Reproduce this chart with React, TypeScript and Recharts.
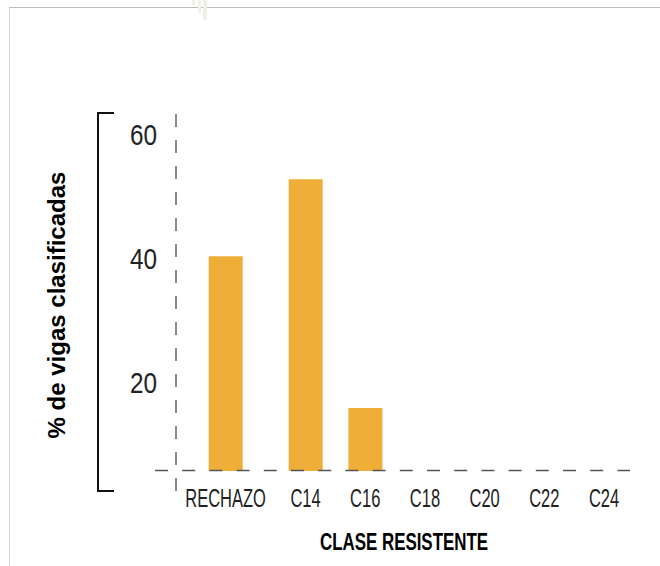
import React from 'react';
import { BarChart, Bar, XAxis, YAxis, Label } from 'recharts';

const categories = ['RECHAZO', 'C14', 'C16', 'C18', 'C20', 'C22', 'C24'];
const classPositions = [11.32, 14, 16, 18, 20, 22, 24];
const percentValues = [40.3, 52.7, 15.8, 0, 0, 0, 0];
const yTicks = [20, 40, 60];
const yTitle = '% de vigas clasificadas';
const xTitle = 'CLASE RESISTENTE';

const data = categories.map((name, i) => ({ name, pos: classPositions[i], value: percentValues[i] }));

const FONT = "'Liberation Sans', Arial, sans-serif";
const BAR_COLOR = '#EFAE38';

function XTick(props: any) {
  const { x, y, payload } = props;
  const i = classPositions.indexOf(payload.value);
  const label = i >= 0 ? categories[i] : '';
  return (
    <text
      transform={`translate(${x},${y + 18}) scale(0.66,1)`}
      textAnchor="middle"
      fontFamily={FONT}
      fontSize={25}
      fill="#222"
    >
      {label}
    </text>
  );
}

function YTick(props: any) {
  const { x, y, payload } = props;
  return (
    <text
      transform={`translate(${x},${y + 11}) scale(0.81,1)`}
      textAnchor="end"
      fontFamily={FONT}
      fontSize={30}
      fill="#222"
    >
      {payload.value}
    </text>
  );
}

function YDecor(props: any) {
  const vb = props.viewBox || {};
  const { x, y, width, height } = vb;
  const right = x + width;
  return (
    <g>
      <path
        d={`M ${x - 12} ${y - 2} H ${x - 28} V ${y + height + 20} H ${x - 12}`}
        fill="none"
        stroke="#111"
        strokeWidth={2}
      />
      <path
        d={`M ${right} ${y - 1} V ${y + height + 20}`}
        stroke="#666"
        strokeWidth={1.5}
        strokeDasharray="13 13"
      />
      <text
        transform={`translate(${x - 61.5},${y + height / 2 + 12}) rotate(-90)`}
        textAnchor="middle"
        fontFamily={FONT}
        fontWeight="bold"
        fontSize={24}
        fill="#000"
      >
        {yTitle}
      </text>
    </g>
  );
}

function XDecor(props: any) {
  const vb = props.viewBox || {};
  const { x, y, width } = vb;
  return (
    <g>
      <path
        d={`M ${x - 21} ${y - 0.5} H ${x + width}`}
        stroke="#555"
        strokeWidth={1.5}
        strokeDasharray="13 14.2"
      />
      <text
        transform={`translate(${x + width / 2 + 1},${y + 79}) scale(0.704,1)`}
        textAnchor="middle"
        fontFamily={FONT}
        fontWeight="bold"
        fontSize={24}
        fill="#000"
      >
        {xTitle}
      </text>
    </g>
  );
}

export default function App() {
  return (
    <div style={{ position: 'absolute', left: 0, top: 0, width: 660, height: 566, background: '#fff', overflow: 'hidden' }}>
      <div style={{ position: 'absolute', left: 9, top: 7, width: 651, height: 559, borderTop: '1px solid #bdbdbd', borderLeft: '1px solid #d0d0d0' }} />
      <div style={{ position: 'absolute', left: 192, top: 0, width: 3, height: 5, background: '#eef2e2' }} />
      <div style={{ position: 'absolute', left: 198, top: 0, width: 2.5, height: 13, background: '#eef2e2' }} />
      <div style={{ position: 'absolute', left: 203, top: 0, width: 3.5, height: 20, background: '#eef2e2' }} />
      <div style={{ position: 'absolute', left: 0, top: 0 }}>
        <BarChart width={660} height={566} data={data} margin={{ top: 115, right: 30, bottom: 20, left: 126 }}>
          <Bar dataKey="value" fill={BAR_COLOR} barSize={34} isAnimationActive={false} />
          <XAxis
            type="number"
            dataKey="pos"
            domain={[9.66, 24.87]}
            allowDataOverflow
            ticks={classPositions}
            interval={0}
            axisLine={false}
            tickLine={false}
            tickSize={0}
            tickMargin={18}
            height={75}
            tick={<XTick />}
          >
            <Label content={<XDecor />} />
          </XAxis>
          <YAxis
            type="number"
            domain={[5.65, 63.06]}
            allowDataOverflow
            ticks={yTicks}
            axisLine={false}
            tickLine={false}
            tickSize={0}
            tickMargin={19}
            width={50}
            tick={<YTick />}
          >
            <Label content={<YDecor />} />
          </YAxis>
        </BarChart>
      </div>
    </div>
  );
}
